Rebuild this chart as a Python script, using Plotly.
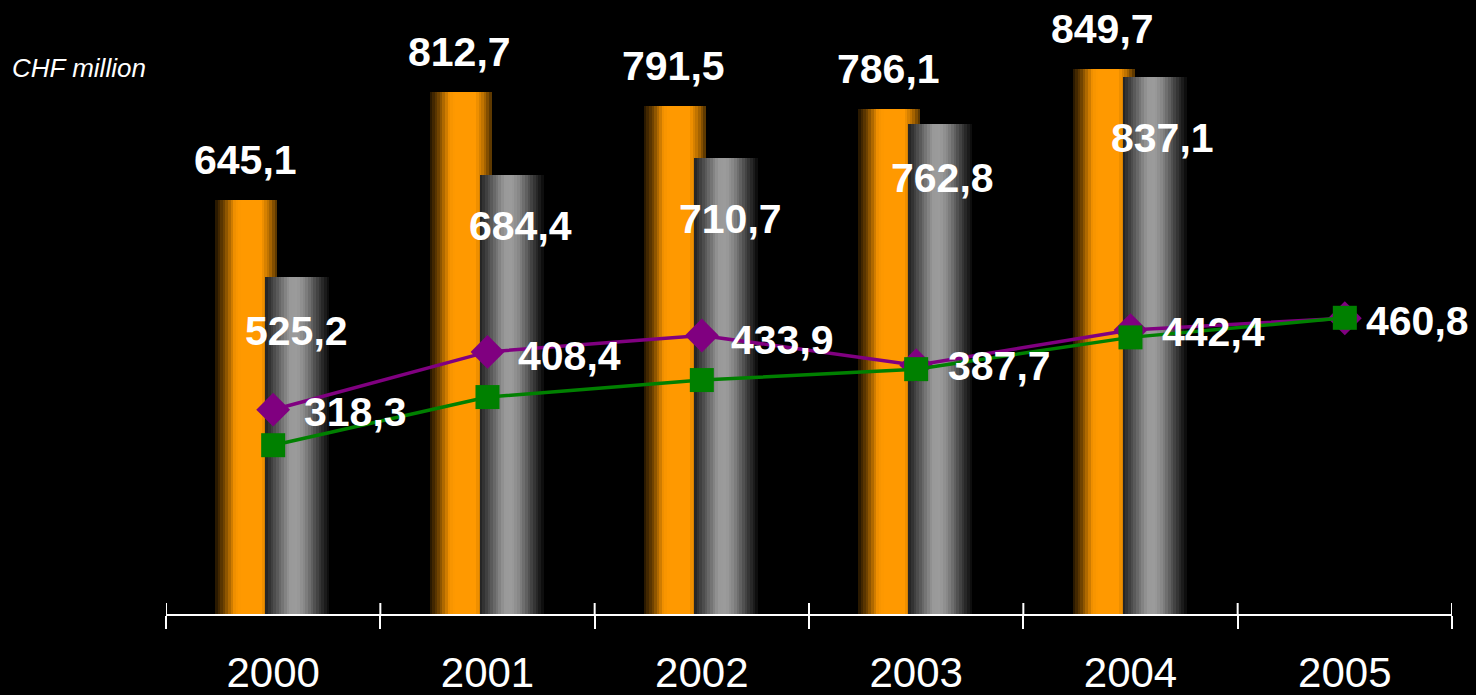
import plotly.graph_objects as go

# ---------------- data ----------------
years = ["2000", "2001", "2002", "2003", "2004", "2005"]
bar_orange = [645.1, 812.7, 791.5, 786.1, 849.7]
bar_gray = [525.2, 684.4, 710.7, 762.8, 837.1]
line_purple = [318.3, 408.4, 433.9, 387.7, 442.4, 460.8]
line_green = [263.0, 338.0, 364.5, 381.5, 431.0, 461.5]
unit_label = "CHF million"

# ---------------- style ----------------
FONT = "Liberation Sans, Arial, sans-serif"
ORANGE = (255, 153, 0)
GRAY = (156, 156, 156)
N_SLICES = 24
orange_offset, orange_width = -0.2706, 0.289
gray_offset, gray_width = -0.0373, 0.2987
orange_profile = [(0, 0.12), (0.15, 0.45), (0.32, 0.96), (0.42, 1.0), (0.74, 1.0), (0.88, 0.7), (1.0, 0.3)]
gray_profile = [(0, 0.2), (0.15, 0.5), (0.38, 0.98), (0.5, 1.0), (0.62, 0.85), (0.85, 0.35), (1.0, 0.05)]

# label pixel offsets (style only)
orange_lbl_dx, orange_lbl_dy = -28, 40
gray_lbl_dx = [23, 33, 29, 26, 32]
gray_lbl_dy = [-54, -51, -61, -54, -61]
purple_lbl_dx = [29, 28, 27, 30, 29, 19]
purple_lbl_dy = [-2, -4, -4, -1, -2, -3]


def interp(profile, t):
    for (t0, v0), (t1, v1) in zip(profile[:-1], profile[1:]):
        if t0 <= t <= t1:
            return v0 + (v1 - v0) * (t - t0) / (t1 - t0)
    return profile[-1][1]


def shade(base, f):
    return "rgb({},{},{})".format(*[max(0, min(255, int(round(c * f)))) for c in base])


def fmt(v):
    return f"{v:.1f}".replace(".", ",")


fig = go.Figure()

# gradient bars built from thin bar slices
for base, profile, off, w, vals in [
    (ORANGE, orange_profile, orange_offset, orange_width, bar_orange),
    (GRAY, gray_profile, gray_offset, gray_width, bar_gray),
]:
    sw = w / N_SLICES
    for k in range(N_SLICES):
        t = (k + 0.5) / N_SLICES
        fig.add_trace(go.Bar(
            x=years[:len(vals)], y=vals,
            offset=off + k * sw, width=sw * 1.08,
            marker=dict(color=shade(base, interp(profile, t)), line=dict(width=0)),
            showlegend=False, hoverinfo="skip",
        ))

fig.add_trace(go.Scatter(
    x=years, y=line_purple, mode="lines+markers",
    line=dict(color="#800080", width=3.5),
    marker=dict(symbol="diamond", size=26, color="#800080"),
    showlegend=False, hoverinfo="skip",
))
fig.add_trace(go.Scatter(
    x=years, y=line_green, mode="lines+markers",
    line=dict(color="#008000", width=3.5),
    marker=dict(symbol="square", size=24, color="#008000"),
    showlegend=False, hoverinfo="skip",
))

annotations = []
lbl_font = dict(family=FONT, size=41, color="white")
for i, v in enumerate(bar_orange):
    annotations.append(dict(x=i, y=v, text=f"<b>{fmt(v)}</b>", showarrow=False,
                            xanchor="center", yanchor="middle",
                            xshift=orange_lbl_dx, yshift=orange_lbl_dy, font=lbl_font))
for i, v in enumerate(bar_gray):
    annotations.append(dict(x=i, y=v, text=f"<b>{fmt(v)}</b>", showarrow=False,
                            xanchor="center", yanchor="middle",
                            xshift=gray_lbl_dx[i], yshift=gray_lbl_dy[i], font=lbl_font))
for i, v in enumerate(line_purple):
    annotations.append(dict(x=i, y=v, text=f"<b>{fmt(v)}</b>", showarrow=False,
                            xanchor="left", yanchor="middle",
                            xshift=purple_lbl_dx[i], yshift=purple_lbl_dy[i], font=lbl_font))
annotations.append(dict(xref="paper", yref="paper", x=-0.1215, y=0.919, text=unit_label,
                        showarrow=False, xanchor="left", yanchor="middle",
                        font=dict(family=FONT, size=26, color="white", style="italic")))

# upper part of the crossing boundary ticks
shapes = []
for i in range(len(years) + 1):
    shapes.append(dict(type="line", xref="x", yref="y", x0=i - 0.5, x1=i - 0.5,
                       ysizemode="pixel", yanchor=0, y0=0, y1=11,
                       line=dict(color="white", width=2)))

fig.update_layout(
    width=1476, height=695, autosize=False,
    paper_bgcolor="black", plot_bgcolor="black",
    margin=dict(l=166, r=24, t=20, b=81, autoexpand=False),
    barmode="overlay", bargap=0,
    annotations=annotations, shapes=shapes,
    xaxis=dict(type="category", categoryarray=years, range=[-0.5, 5.5],
               showline=True, linecolor="white", linewidth=2,
               ticks="outside", tickson="boundaries", ticklen=13, tickwidth=2, tickcolor="white",
               tickfont=dict(family=FONT, size=42, color="white"),
               ticklabelstandoff=21, showgrid=False, zeroline=False, fixedrange=True,
               automargin=False),
    yaxis=dict(range=[0, 925.5], visible=False, showgrid=False, zeroline=False, fixedrange=True,
               automargin=False),
    hovermode=False,
)

fig.write_html("out.html")
